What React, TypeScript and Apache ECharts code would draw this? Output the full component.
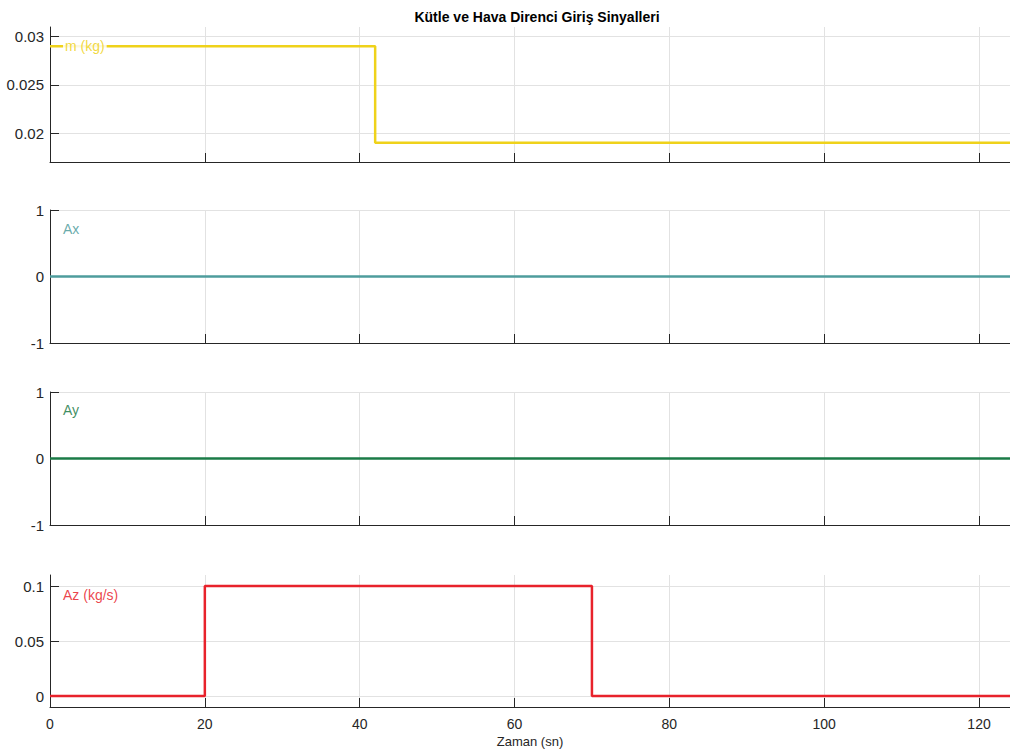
import React, { useEffect, useRef } from "react";
import * as echarts from "echarts";

const title = "Kütle ve Hava Direnci Giriş Sinyalleri";
const xLabel = "Zaman (sn)";
const xTicks = [0, 20, 40, 60, 80, 100, 120];
const xMax = 124;

const mData: [number, number][] = [[0, 0.029], [42, 0.019], [124, 0.019]];
const axData: [number, number][] = [[0, 0], [124, 0]];
const ayData: [number, number][] = [[0, 0], [124, 0]];
const azData: [number, number][] = [[0, 0], [20, 0.1], [70, 0], [124, 0]];

const mTicks = [0.02, 0.025, 0.03];
const axTicks = [-1, 0, 1];
const ayTicks = [-1, 0, 1];
const azTicks = [0, 0.05, 0.1];

const names = ["m (kg)", "Ax", "Ay", "Az (kg/s)"];
const colors = ["#EFD21A", "#4E9C9C", "#1B7B47", "#E8222B"];
const yRanges: [number, number][] = [[0.017, 0.031], [-1, 1], [-1, 1], [-0.01, 0.11]];
const yTickSets = [mTicks, axTicks, ayTicks, azTicks];
const datasets = [mData, axData, ayData, azData];

const grids = [
  { top: 27, height: 135 },
  { top: 210, height: 133 },
  { top: 392, height: 133 },
  { top: 575, height: 132 },
];
const labelY = [47, 230, 411, 596];

const FONT = "Liberation Sans, Arial, Helvetica, sans-serif";
const AXIS = "#262626";

export default function App() {
  const ref = useRef<HTMLDivElement>(null);
  useEffect(() => {
    const chart = echarts.init(ref.current!, null, { renderer: "svg" });
    const option: any = {
      animation: false,
      backgroundColor: "#ffffff",
      title: {
        text: title,
        left: 532,
        top: 5,
        textAlign: "center",
        textStyle: { fontFamily: FONT, fontSize: 14, fontWeight: "bold", color: "#000" },
      },
      grid: grids.map((g) => ({ left: 50, right: 0, top: g.top, height: g.height })),
      xAxis: grids.map((_, i) => ({
        type: "value",
        gridIndex: i,
        min: 0,
        max: xMax,
        name: i === 3 ? xLabel : "",
        nameLocation: "middle",
        nameGap: 28,
        nameTextStyle: { fontFamily: FONT, fontSize: 13, color: AXIS },
        axisLine: { show: true, onZero: false, lineStyle: { color: AXIS, width: 1 } },
        axisTick: { show: true, inside: true, length: 9, customValues: xTicks, lineStyle: { color: AXIS } },
        axisLabel: {
          show: i === 3,
          customValues: xTicks,
          fontFamily: FONT,
          fontSize: 14,
          color: AXIS,
          margin: 10,
        },
        splitLine: { show: true, lineStyle: { color: "#e2e2e2", width: 1 } },
      })),
      yAxis: grids.map((_, i) => ({
        type: "value",
        gridIndex: i,
        min: yRanges[i][0],
        max: yRanges[i][1],
        axisLine: { show: true, onZero: false, lineStyle: { color: AXIS, width: 1 } },
        axisTick: { show: true, inside: true, length: 9, customValues: yTickSets[i], lineStyle: { color: AXIS } },
        axisLabel: {
          show: true,
          customValues: yTickSets[i],
          fontFamily: FONT,
          fontSize: 15,
          color: AXIS,
          margin: 6,
        },
        splitLine: { show: true, lineStyle: { color: "#e2e2e2", width: 1 } },
      })),
      series: datasets.map((d, i) => ({
        type: "line",
        name: names[i],
        xAxisIndex: i,
        yAxisIndex: i,
        data: d,
        step: "end",
        showSymbol: false,
        symbol: "none",
        lineStyle: { color: colors[i], width: 2.5 },
        z: 3,
      })),
      graphic: names.map((n, i) => ({
        type: "text",
        left: 63,
        top: labelY[i] - 8,
        z: 10,
        style: {
          text: n,
          fill: colors[i],
          font: `14px ${FONT}`,
          backgroundColor: i === 0 ? "#ffffff" : "transparent",
          padding: i === 0 ? [0, 2, 0, 2] : 0,
          opacity: 0.85,
        },
      })),
    };
    chart.setOption(option);
    return () => chart.dispose();
  }, []);
  return (
    <div
      ref={ref}
      style={{ position: "fixed", left: 0, top: 0, width: 1010, height: 756, background: "#fff" }}
    />
  );
}
